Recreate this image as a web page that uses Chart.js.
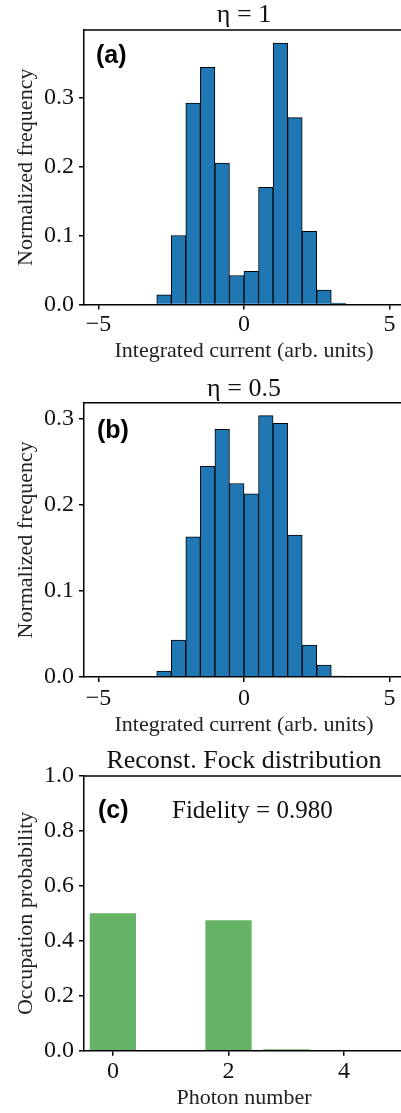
<!DOCTYPE html>
<html>
<head>
<meta charset="utf-8">
<script src="https://cdn.jsdelivr.net/npm/chart.js@4"></script>
<style>
  html, body { margin: 0; padding: 0; background: #fff; overflow: hidden; }
  .panel { position: absolute; left: 0; width: 404px; }
</style>
</head>
<body>
<div class="panel" style="top:0; height:370px;"><canvas id="histA"></canvas></div>
<div class="panel" style="top:370px; height:370px;"><canvas id="histB"></canvas></div>
<div class="panel" style="top:740px; height:373px;"><canvas id="fock"></canvas></div>

<script>
// Datos
const binCenters = [-4.75, -4.25, -3.75, -3.25, -2.75, -2.25, -1.75, -1.25, -0.75, -0.25,
                    0.25, 0.75, 1.25, 1.75, 2.25, 2.75, 3.25, 3.75, 4.25, 4.75];
const freqEta1  = [0, 0, 0, 0, 0.014, 0.100, 0.292, 0.344, 0.205, 0.042,
                   0.048, 0.170, 0.379, 0.271, 0.106, 0.021, 0.002, 0, 0, 0];
const freqEta05 = [0, 0, 0, 0, 0.007, 0.043, 0.163, 0.245, 0.288, 0.225,
                   0.213, 0.304, 0.295, 0.165, 0.037, 0.014, 0.001, 0, 0, 0];
const photonNumbers  = [0, 1, 2, 3, 4, 5];
const occupationProb = [0.500, 0.000, 0.475, 0.005, 0.000, 0.000];

const histXTicks = [-5, 0, 5];
const histYTicks = [0, 0.1, 0.2, 0.3];
const fockXTicks = [0, 2, 4];
const fockYTicks = [0, 0.2, 0.4, 0.6, 0.8, 1.0];

const SERIF = '"Liberation Serif", "DejaVu Serif", serif';
const SANS = '"Liberation Sans", Arial, sans-serif';

// Marco superior + etiquetas del panel
const marco = {
  id: 'marco',
  afterDraw(chart, args, opts) {
    const { ctx, chartArea: a } = chart;
    ctx.save();
    ctx.strokeStyle = '#000';
    ctx.lineWidth = 1.5;
    ctx.beginPath();
    ctx.moveTo(a.left, a.top);
    ctx.lineTo(a.right, a.top);
    ctx.stroke();
    ctx.fillStyle = '#000';
    ctx.textBaseline = 'middle';
    ctx.textAlign = 'left';
    ctx.font = 'bold 25px ' + SANS;
    ctx.fillText(opts.label, a.left + opts.dx, a.top + opts.dy);
    if (opts.note) {
      ctx.fillStyle = '#111';
      ctx.font = '25px ' + SERIF;
      ctx.fillText(opts.note, a.left + opts.noteDx, a.top + opts.dy);
    }
    ctx.restore();
  }
};

function fmtX(v) {
  return v < 0 ? '\u2212' + Math.abs(v) : String(v);
}

function crearPanel(id, p) {
  const ctx = document.getElementById(id).getContext('2d');
  return new Chart(ctx, {
    type: 'bar',
    data: {
      datasets: [{
        data: p.xs.map((x, i) => ({ x: x, y: p.ys[i] })),
        backgroundColor: p.color,
        borderColor: '#000',
        borderWidth: p.border,
        barPercentage: p.barPct,
        categoryPercentage: 1.0
      }]
    },
    options: {
      responsive: true,
      maintainAspectRatio: false,
      animation: false,
      layout: { padding: 0 },
      plugins: {
        legend: { display: false },
        tooltip: { enabled: false },
        title: {
          display: true,
          text: p.title,
          fullSize: false,
          color: '#111',
          font: { family: SERIF, size: 26, weight: 'normal', lineHeight: 1 },
          padding: p.titlePad
        },
        marco: p.marco
      },
      scales: {
        x: {
          type: 'linear',
          offset: false,
          min: p.xmin,
          max: p.xmax,
          afterFit: s => { s.height = p.xHeight; },
          afterBuildTicks: s => { s.ticks = p.xTicks.map(v => ({ value: v })); },
          grid: { display: true, drawOnChartArea: false, drawTicks: true, tickLength: 5, color: '#000', lineWidth: 1.5, offset: false },
          border: { display: true, color: '#000', width: 1.5 },
          ticks: {
            color: '#111',
            padding: p.xTickPad,
            maxRotation: 0,
            autoSkip: false,
            font: { family: SERIF, size: 24 },
            callback: v => fmtX(v)
          },
          title: {
            display: true,
            text: p.xLabel,
            color: '#222',
            font: { family: SERIF, size: 22 },
            padding: { top: 0, bottom: p.xTitlePad }
          }
        },
        y: {
          min: 0,
          max: p.ymax,
          afterFit: s => { s.width = 84; },
          afterBuildTicks: s => { s.ticks = p.yTicks.map(v => ({ value: v })); },
          grid: { display: true, drawOnChartArea: false, drawTicks: true, tickLength: 5, color: '#000', lineWidth: 1.5 },
          border: { display: true, color: '#000', width: 1.5 },
          ticks: {
            color: '#111',
            padding: 5,
            autoSkip: false,
            font: { family: SERIF, size: 24 },
            callback: v => v.toFixed(1)
          },
          title: {
            display: true,
            text: p.yLabel,
            color: '#222',
            font: { family: SERIF, size: 22 },
            padding: { top: 13.5, bottom: 0 }
          }
        }
      }
    },
    plugins: [marco]
  });
}

crearPanel('histA', {
  xs: binCenters, ys: freqEta1, color: '#1f77b4', border: 1, barPct: 1.0,
  title: '\u03B7 = 1', titlePad: { top: 2, bottom: 2 },
  xmin: -5.5, xmax: 5.5, xTicks: histXTicks, xHeight: 65.5, xTickPad: 1, xTitlePad: 5.1,
  xLabel: 'Integrated current (arb. units)',
  ymax: 0.398, yTicks: histYTicks, yLabel: 'Normalized frequency',
  marco: { label: '(a)', dx: 12, dy: 26 }
});

crearPanel('histB', {
  xs: binCenters, ys: freqEta05, color: '#1f77b4', border: 1, barPct: 1.0,
  title: '\u03B7 = 0.5', titlePad: { top: 6, bottom: 0.7 },
  xmin: -5.5, xmax: 5.5, xTicks: histXTicks, xHeight: 63, xTickPad: 2, xTitlePad: 1.8,
  xLabel: 'Integrated current (arb. units)',
  ymax: 0.319, yTicks: histYTicks, yLabel: 'Normalized frequency',
  marco: { label: '(b)', dx: 13, dy: 28 }
});

crearPanel('fock', {
  xs: photonNumbers, ys: occupationProb, color: 'rgba(0, 128, 0, 0.6)', border: 0, barPct: 0.8,
  title: 'Reconst. Fock distribution', titlePad: { top: 8, bottom: 2 },
  xmin: -0.5, xmax: 5.036, xTicks: fockXTicks, xHeight: 62.3, xTickPad: 1.5, xTitlePad: 1.5,
  xLabel: 'Photon number',
  ymax: 1.0, yTicks: fockYTicks, yLabel: 'Occupation probability',
  marco: { label: '(c)', dx: 14, dy: 35, note: 'Fidelity = 0.980', noteDx: 88 }
});
</script>
</body>
</html>
